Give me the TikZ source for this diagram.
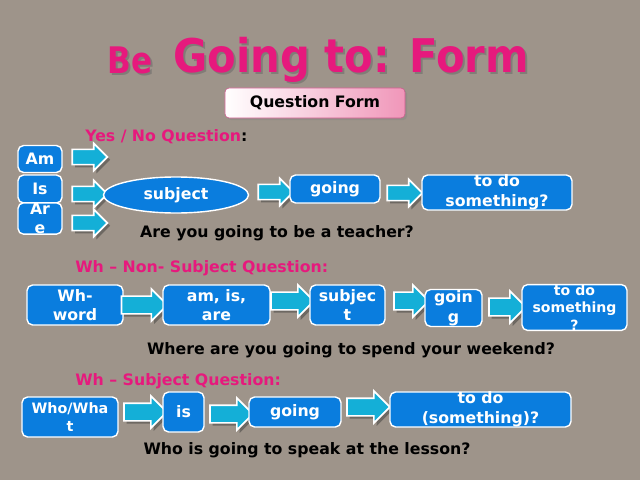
\documentclass[tikz,border=0pt]{standalone}
\usepackage{fontspec}
\setmainfont{DejaVu Sans}
\usetikzlibrary{shapes.geometric,shapes.arrows,shadows}
\definecolor{sand}{RGB}{158,148,138}
\definecolor{hotpink}{RGB}{230,25,125}
\definecolor{boxblue}{RGB}{10,125,222}
\definecolor{arrowcyan}{RGB}{20,175,215}
\definecolor{formpink}{RGB}{240,150,185}
\definecolor{formedge}{RGB}{205,90,140}
\newcommand{\bodyfont}{\fontsize{11.2}{14}\selectfont\bfseries}
\tikzset{
  word/.style={draw=white, line width=1pt, fill=boxblue, rounded corners=4pt,
    text=white, font=\bodyfont, align=center, inner sep=0pt},
  oval/.style={ellipse, draw=white, line width=1pt, fill=boxblue,
    text=white, font=\bodyfont, inner sep=0pt},
  blockarrow/.style={single arrow, draw=white, line width=1.2pt, fill=arrowcyan,
    inner xsep=0pt, inner ysep=0.17cm, single arrow head extend=0.15cm,
    minimum height=#1,
    drop shadow={shadow xshift=2pt, shadow yshift=-2pt, opacity=0.45, fill=black!80}},
  blockarrow/.default=0.875cm,
  bigarrow/.style={blockarrow=#1, inner ysep=0.2cm, single arrow head extend=0.18cm},
  bigarrow/.default=1.075cm,
  heading/.style={text=hotpink, font=\bodyfont, anchor=west, inner sep=0pt},
  sentence/.style={text=black, font=\bodyfont, inner sep=0pt}
}
\begin{document}
\begin{tikzpicture}[x=0.025cm, y=-0.025cm]
  \fill[sand] (0,0) rectangle (640,480);
  % title
  \node[text=black!60, opacity=0.5, font=\fontsize{26}{28}\selectfont\bfseries] at (132,62) {\scalebox{0.85}[1]{Be}};
  \node[text=hotpink, font=\fontsize{26}{28}\selectfont\bfseries] (be) at (130,60) {\scalebox{0.85}[1]{Be}};
  \node[text=black!60, opacity=0.5, font=\fontsize{33}{36}\selectfont\bfseries] at (353,62) {\scalebox{0.9}[1]{Going to: Form}};
  \node[text=hotpink, font=\fontsize{33}{36}\selectfont\bfseries] (title) at (351,60) {\scalebox{0.9}[1]{Going to: Form}};
  \node[draw=formedge, left color=white, right color=formpink, rounded corners=3pt,
    minimum width=4.5cm, minimum height=0.75cm, font=\bodyfont, inner sep=0pt,
    drop shadow={shadow xshift=1.5pt, shadow yshift=-1.5pt, opacity=0.35}] (qform) at (315,103) {Question Form};

  % yes / no question
  \node[heading] (yesno) at (85,137) {Yes / No Question\textcolor{black}{:}};
  \node[word, minimum width=1.1cm, minimum height=0.675cm] (am) at (40,159) {Am};
  \node[word, minimum width=1.1cm, minimum height=0.7cm] (is) at (40,189) {Is};
  \node[word, minimum width=1.1cm, minimum height=0.675cm] (are) at (40,218.5) {Ar\\e};
  \node[blockarrow] (yn1) at (86,157) {};
  \node[blockarrow] (yn2) at (86,194) {};
  \node[blockarrow] (yn3) at (86,223) {};
  \node[oval, minimum width=3.625cm, minimum height=0.9cm] (subj) at (176,195) {subject};
  \node[blockarrow] (yn4) at (272,192) {};
  \node[word, minimum width=2.25cm, minimum height=0.7cm] (going) at (335,189) {going};
  \node[blockarrow] (yn5) at (401,193) {};
  \node[word, minimum width=3.75cm, minimum height=0.875cm] (todo) at (497,192.5) {to do\\something?};
  \node[sentence] (ex1) at (277,233) {Are you going to be a teacher?};

  % wh - non-subject question
  \node[heading] (nonsubj) at (75,268) {Wh – Non- Subject Question:};
  \node[word, minimum width=2.4cm, minimum height=1cm] (whword) at (75,305) {Wh-\\word};
  \node[bigarrow=1.15cm] (ns1) at (140,305) {};
  \node[word, minimum width=2.675cm, minimum height=1cm] (amisare) at (216.5,305) {am, is,\\are};
  \node[bigarrow] (ns2) at (288,301) {};
  \node[word, minimum width=1.875cm, minimum height=1cm] (subjtwo) at (347.5,305) {subjec\\t};
  \node[bigarrow=0.875cm] (ns3) at (407,301) {};
  \node[word, minimum width=1.425cm, minimum height=0.925cm] (goingtwo) at (453.5,308) {goin\\g};
  \node[bigarrow=0.925cm] (ns4) at (503,307) {};
  \node[word, minimum width=2.625cm, minimum height=0.875cm, font=\fontsize{10}{12.5}\selectfont\bfseries] (todotwo) at (574.5,307.5) {to do\\something\\?};
  \node[sentence] (ex2) at (351,350) {Where are you going to spend your weekend?};

  % wh - subject question
  \node[heading] (subjq) at (75,381) {Wh – Subject Question:};
  \node[word, minimum width=2.4cm, minimum height=1cm, font=\fontsize{10.2}{13}\selectfont\bfseries] (whowhat) at (70,417) {Who/Wha\\t};
  \node[bigarrow] (sq1) at (141,412) {};
  \node[word, minimum width=1.025cm, minimum height=1cm] (isbox) at (183.5,412) {is};
  \node[bigarrow] (sq2) at (227,414) {};
  \node[word, minimum width=2.3cm, minimum height=0.75cm] (goingthree) at (295,412) {going};
  \node[bigarrow] (sq3) at (364,407) {};
  \node[word, minimum width=4.525cm, minimum height=0.875cm] (todothree) at (480.5,409.5) {to do\\(something)?};
  \node[sentence] (ex3) at (307,450) {Who is going to speak at the lesson?};
\end{tikzpicture}
\end{document}
